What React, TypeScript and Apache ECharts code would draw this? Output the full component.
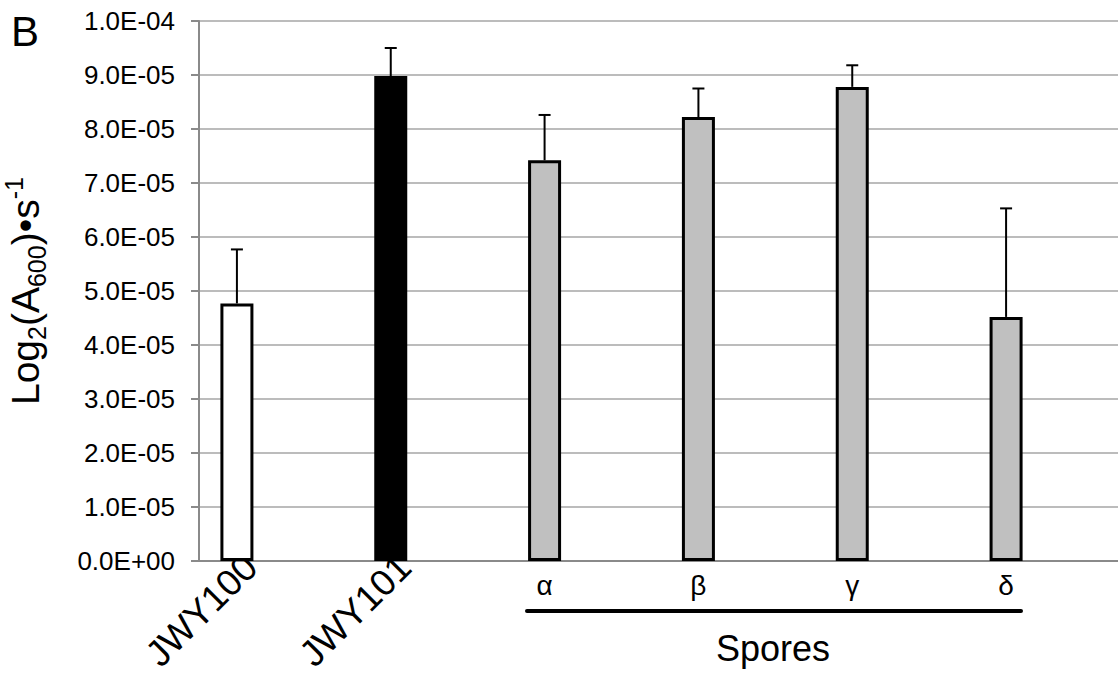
import React, { useEffect, useRef } from "react";
import * as echarts from "echarts";

const categories = ["JWY100", "JWY101", "α", "β", "γ", "δ"];
const rotatedLabels = ["JWY100", "JWY101"];
const values = [4.77e-5, 8.98e-5, 7.42e-5, 8.22e-5, 8.78e-5, 4.52e-5];
const errorTops = [5.77e-5, 9.5e-5, 8.26e-5, 8.75e-5, 9.18e-5, 6.53e-5];
const fills = ["#ffffff", "#000000", "#c0c0c0", "#c0c0c0", "#c0c0c0", "#c0c0c0"];
const yTicks = { min: 0, max: 1e-4, interval: 1e-5 };

const FONT = "Liberation Sans, Arial, sans-serif";

function fmtExp(v: number): string {
  if (v === 0) return "0.0E+00";
  const s = v.toExponential(1).toUpperCase();
  const m = s.match(/^(-?[\d.]+)E([+-])(\d+)$/);
  if (!m) return s;
  const e = m[3].length < 2 ? "0" + m[3] : m[3];
  return `${m[1]}E${m[2]}${e}`;
}

export default function App() {
  const ref = useRef<HTMLDivElement>(null);
  useEffect(() => {
    if (!ref.current) return;
    const chart = echarts.init(ref.current, null, { renderer: "svg" });
    const gridBase = { top: 21, bottom: 122, containLabel: false, outerBoundsMode: "none" };
    const option: any = {
      animation: false,
      backgroundColor: "#ffffff",
      textStyle: { fontFamily: FONT },
      grid: [
        { ...gridBase, left: 199, right: 0 },
        { ...gridBase, left: 160, width: 923 },
        { ...gridBase, left: 174, width: 923 },
      ],
      xAxis: [
        {
          gridIndex: 0,
          type: "value",
          min: 0,
          max: 1,
          axisLine: { show: true, onZero: false, lineStyle: { color: "#8a8a8a", width: 2 } },
          axisTick: { show: false },
          axisLabel: { show: false },
          splitLine: { show: false },
        },
        {
          gridIndex: 2,
          type: "category",
          data: categories,
          axisLine: { show: false },
          axisTick: { show: false },
          splitLine: { show: false },
          axisLabel: {
            interval: 0,
            rotate: 45,
            margin: 0,
            color: "#000",
            fontSize: 37,
            fontFamily: FONT,
            formatter: (v: string) => (rotatedLabels.includes(v) ? v : ""),
          },
        },
        {
          gridIndex: 1,
          type: "category",
          data: categories,
          position: "bottom",
          axisLine: { show: false },
          axisTick: { show: false },
          splitLine: { show: false },
          axisLabel: {
            interval: 0,
            margin: 10,
            color: "#000",
            fontSize: 28,
            fontFamily: FONT,
            formatter: (v: string) => (rotatedLabels.includes(v) ? "" : v),
          },
        },
      ],
      yAxis: [
        {
          gridIndex: 0,
          type: "value",
          min: yTicks.min,
          max: yTicks.max,
          interval: yTicks.interval,
          axisLine: { show: true, lineStyle: { color: "#8a8a8a", width: 2 } },
          axisTick: { show: true, inside: false, length: 8, lineStyle: { color: "#8a8a8a", width: 2 } },
          splitLine: { show: true, lineStyle: { color: "#a6a6a6", width: 1.5 } },
          axisLabel: {
            margin: 24,
            color: "#000",
            fontSize: 26,
            fontFamily: FONT,
            formatter: (v: number) => fmtExp(v),
          },
          name: "{a|Log}{b|2}{a|(A}{b|600}{a|)•s}{c|-1}",
          nameLocation: "middle",
          nameRotate: 90,
          nameGap: 150,
          nameTextStyle: {
            color: "#000",
            fontFamily: FONT,
            rich: {
              a: { fontSize: 39, lineHeight: 48, verticalAlign: "middle", color: "#000", fontFamily: FONT },
              b: { fontSize: 25, lineHeight: 48, verticalAlign: "bottom", color: "#000", fontFamily: FONT },
              c: { fontSize: 25, lineHeight: 48, verticalAlign: "top", color: "#000", fontFamily: FONT },
            },
          },
        },
        {
          gridIndex: 1,
          type: "value",
          min: yTicks.min,
          max: yTicks.max,
          interval: yTicks.interval,
          show: false,
          splitLine: { show: false },
        },
        {
          gridIndex: 2,
          type: "value",
          min: yTicks.min,
          max: yTicks.max,
          interval: yTicks.interval,
          show: false,
          splitLine: { show: false },
        },
      ],
      series: [
        {
          type: "bar",
          xAxisIndex: 2,
          yAxisIndex: 1,
          barWidth: 33,
          data: values.map((v, i) => ({
            value: v,
            itemStyle: { color: fills[i], borderColor: "#000", borderWidth: 3 },
          })),
          z: 3,
        },
        {
          type: "custom",
          xAxisIndex: 2,
          yAxisIndex: 1,
          z: 2,
          data: values.map((v, i) => [i, v, errorTops[i]]),
          renderItem: (params: any, api: any) => {
            const i = api.value(0);
            const base = api.coord([i, api.value(1)]);
            const top = api.coord([i, api.value(2)]);
            const hw = 6;
            return {
              type: "group",
              children: [
                {
                  type: "line",
                  shape: { x1: base[0], y1: base[1], x2: top[0], y2: top[1] },
                  style: { stroke: "#000", lineWidth: 2 },
                },
                {
                  type: "line",
                  shape: { x1: top[0] - hw, y1: top[1], x2: top[0] + hw, y2: top[1] },
                  style: { stroke: "#000", lineWidth: 2 },
                },
              ],
            };
          },
        },
      ],
      graphic: [
        {
          type: "text",
          left: 11,
          top: 10,
          style: { text: "B", fontSize: 42, fontFamily: FONT, fill: "#000" },
        },
        {
          type: "line",
          shape: { x1: 527, y1: 611, x2: 1021, y2: 611 },
          style: { stroke: "#000", lineWidth: 4, lineCap: "round" },
        },
        {
          type: "text",
          x: 773,
          y: 648,
          style: {
            text: "Spores",
            fontSize: 36,
            fontFamily: FONT,
            fill: "#000",
            textAlign: "center",
            textVerticalAlign: "middle",
          },
        },
      ],
    };
    chart.setOption(option);
    return () => chart.dispose();
  }, []);
  return <div ref={ref} style={{ width: 1118, height: 683, position: "absolute", left: 0, top: 0 }} />;
}
